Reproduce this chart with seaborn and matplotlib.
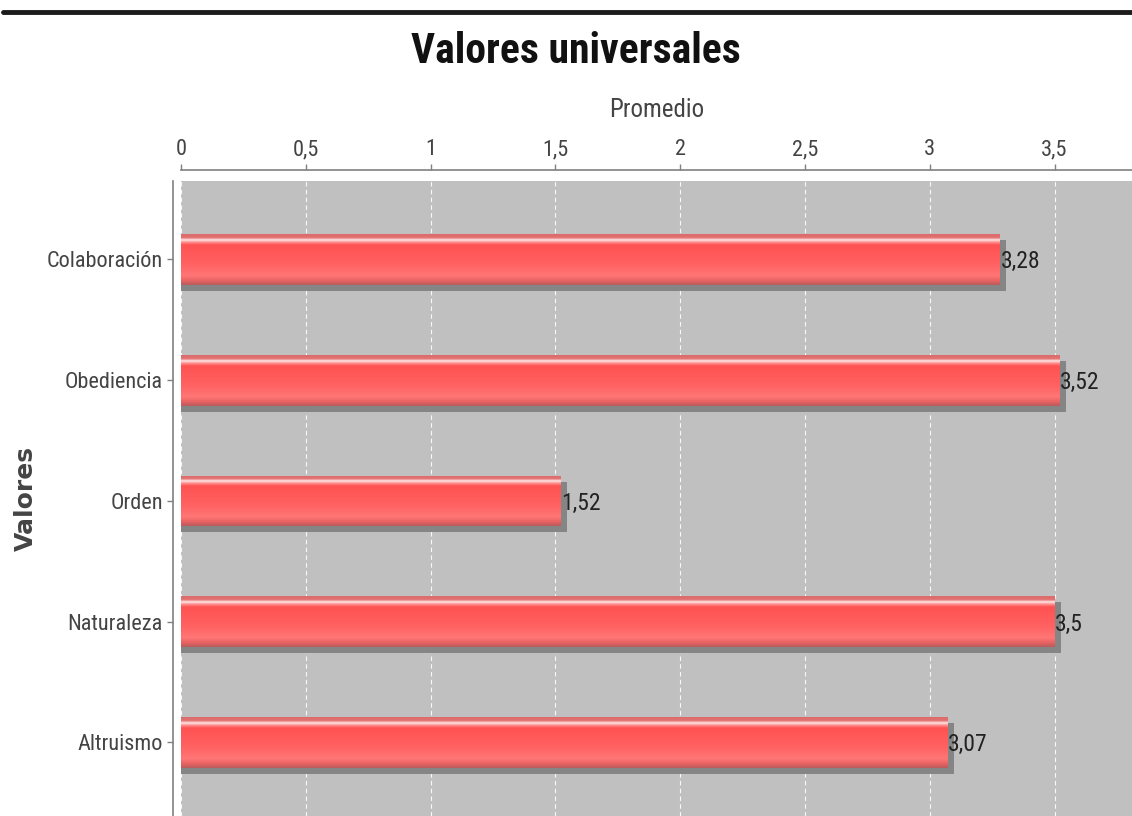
import matplotlib
matplotlib.use('Agg')
import matplotlib.pyplot as plt
import seaborn as sns
import numpy as np
import pandas as pd
from matplotlib.lines import Line2D
from matplotlib.colors import LinearSegmentedColormap
from matplotlib import font_manager

# ---- data ----
categories = ["Colaboración", "Obediencia", "Orden", "Naturaleza", "Altruismo"]
values = [3.28, 3.52, 1.52, 3.5, 3.07]
value_labels = ["3,28", "3,52", "1,52", "3,5", "3,07"]
x_ticks = [0, 0.5, 1, 1.5, 2, 2.5, 3, 3.5]
x_tick_labels = ["0", "0,5", "1", "1,5", "2", "2,5", "3", "3,5"]
title = "Valores universales"
x_label = "Promedio"
y_label = "Valores"

sns.set_theme(style="white")

# look for a condensed font
names = {f.name for f in font_manager.fontManager.ttflist}
cond = None
for cand in ['Roboto Condensed', 'DejaVu Sans Condensed', 'Liberation Sans Narrow',
             'Open Sans Condensed', 'Noto Sans Condensed']:
    if cand in names:
        cond = cand
        break
if cond is not None:
    plt.rcParams['font.family'] = [cond, 'DejaVu Sans']
    txt_size = 16
else:
    plt.rcParams['font.family'] = ['DejaVu Sans']
    txt_size = 13

W, H = 1132, 816
fig = plt.figure(figsize=(W / 100, H / 100), dpi=100)
ax = fig.add_axes([181 / W, 0, 1 - 181 / W, 1 - 181 / H])
ax.set_facecolor('#c0c0c0')

df = pd.DataFrame({"Valores": categories, "Promedio": values})
BAR_H = 0.42
sns.barplot(data=df, y="Valores", x="Promedio", orient="h", width=BAR_H,
            color="#ff5a5a", saturation=1, ax=ax, zorder=3, linewidth=0)
bars = list(ax.patches)

# shadow bars
pos = np.arange(len(values))
ax.barh(pos + 0.05, np.array(values) + 0.025, height=BAR_H, color="#858585",
        zorder=2, linewidth=0)

# gradient fill clipped to each bar
stops = [(0.00, "#dc6c6c"), (0.07, "#e27272"), (0.09, "#f6b0b0"),
         (0.115, "#ffe8e8"), (0.15, "#ff9a9a"), (0.21, "#ff5252"),
         (0.60, "#ff6262"), (0.82, "#ff7676"), (0.92, "#e86262"),
         (1.00, "#b85c5c")]
cmap = LinearSegmentedColormap.from_list("bar", stops)
grad = np.linspace(0, 1, 200).reshape(-1, 1)
for p in bars:
    x0, y0, w, h = p.get_x(), p.get_y(), p.get_width(), p.get_height()
    im = ax.imshow(grad, cmap=cmap, aspect='auto', origin='upper',
                   extent=[x0, x0 + w, y0 + h, y0], zorder=4,
                   interpolation='bilinear')
    im.set_clip_path(p)

# value labels
for i, (v, lab) in enumerate(zip(values, value_labels)):
    ax.text(v + 0.003, i + 0.02, lab, ha='left', va='center',
            fontsize=txt_size + 1, color='#222222', zorder=6)

ax.set_xlim(0, 3.81)
ax.set_ylim(4.61, -0.65)

ax.xaxis.tick_top()
ax.xaxis.set_label_position('top')
ax.set_xticks(x_ticks)
ax.set_xticklabels(x_tick_labels)
ax.set_xlabel(x_label, fontsize=txt_size + 2, color='#444444', labelpad=16)
ax.set_ylabel(y_label, fontsize=18, color='#444444', fontweight='bold',
              family=['DejaVu Sans'])
ax.yaxis.set_label_coords(-0.151, 0.5)

ax.tick_params(axis='x', top=True, bottom=False, length=4, width=1,
               color='#808080', labelsize=txt_size, labelcolor='#444444', pad=3)
ax.tick_params(axis='y', left=True, length=4, width=1, color='#808080',
               labelsize=txt_size, labelcolor='#444444', pad=3)

ax.xaxis.grid(True, color='white', linestyle=(0, (4, 3)), linewidth=0.8, alpha=0.9)
ax.yaxis.grid(False)
ax.set_axisbelow(True)

for s in ['right', 'bottom']:
    ax.spines[s].set_visible(False)
ax.spines['top'].set_position(('outward', 8))
ax.spines['left'].set_position(('outward', 6))
ax.spines['top'].set_color('#808080')
ax.spines['left'].set_color('#808080')
ax.spines['top'].set_linewidth(1.2)
ax.spines['left'].set_linewidth(1.2)

fig.text(576 / W, 1 - 63 / H, title, ha='center', va='baseline', fontsize=30,
         fontweight='bold', color='#111111')

fig.add_artist(Line2D([3 / W, 1], [1 - 12 / H, 1 - 12 / H], color='#1c1c1c',
                      linewidth=3.5, transform=fig.transFigure))

fig.savefig("out.png", dpi=100)
